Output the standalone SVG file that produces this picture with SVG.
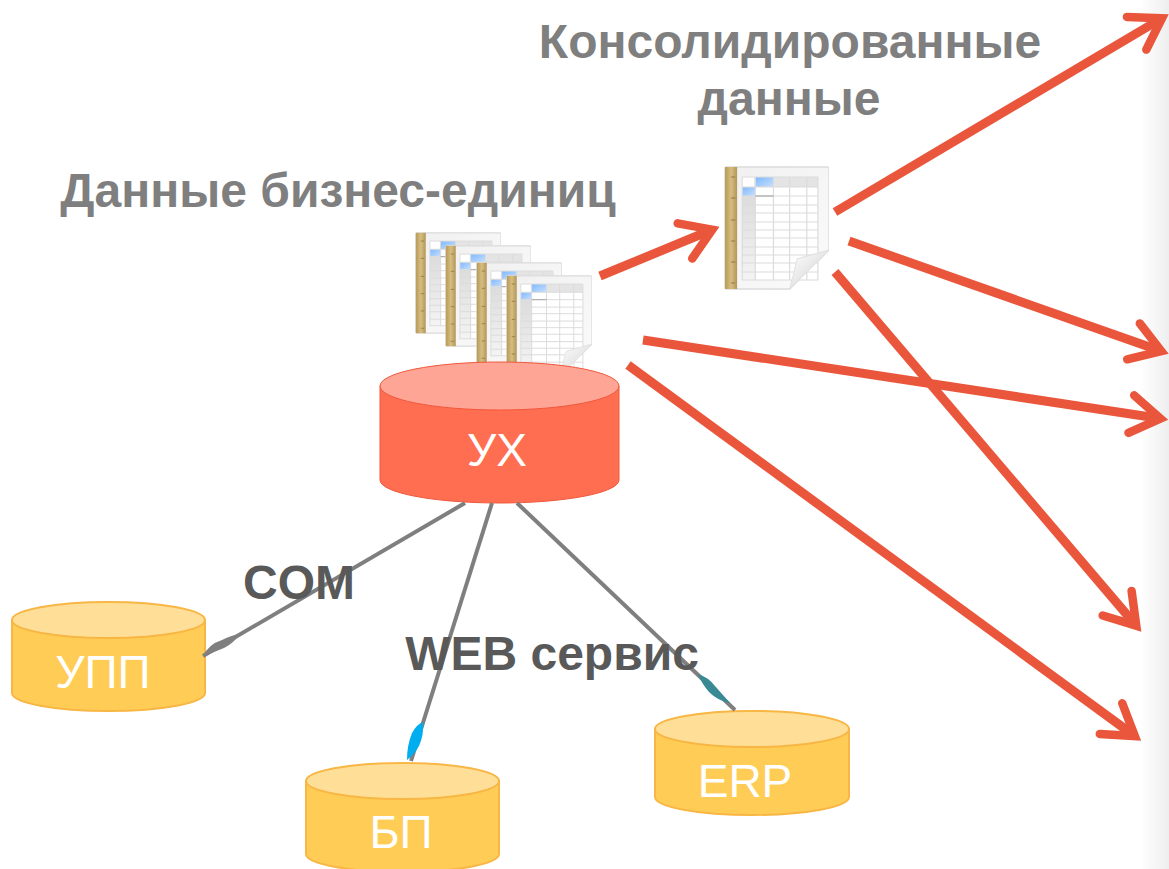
<svg xmlns="http://www.w3.org/2000/svg" xmlns:xlink="http://www.w3.org/1999/xlink" width="1169" height="869" viewBox="0 0 1169 869">
<style>
.h{font-family:"Liberation Sans",Arial,sans-serif;font-weight:700;font-size:48px;fill:#7f7f7f;text-anchor:middle}
.d{font-family:"Liberation Sans",Arial,sans-serif;font-weight:700;font-size:48px;fill:#595959;text-anchor:middle}
.w{font-family:"Liberation Sans",Arial,sans-serif;font-weight:400;font-size:46px;fill:#fff;text-anchor:middle}
.arrow{fill:none;stroke:#ea563c;stroke-width:9;marker-end:url(#head)}
.conn{fill:none;stroke:#7f7f7f;stroke-width:4}
.y .b{fill:#ffcd56;stroke:#f8b645;stroke-width:2}
.y .t{fill:#ffdf97;stroke:#f8b645;stroke-width:2}
.g{stroke:#dcdcdc;stroke-width:1.2;fill:none}
</style>
<defs>
<filter id="soft" x="-5%" y="-5%" width="110%" height="110%"><feGaussianBlur stdDeviation="0.5"/></filter>
<linearGradient id="edge" x1="0" x2="1" y1="0" y2="0"><stop offset="0" stop-color="#fff"/><stop offset="1" stop-color="#eeeeee"/></linearGradient>
<linearGradient id="rule" x1="0" x2="1" y1="0" y2="0"><stop offset="0" stop-color="#b89a58"/><stop offset=".5" stop-color="#d6bd80"/><stop offset="1" stop-color="#b3965a"/></linearGradient>
<linearGradient id="blue" x1="0" x2="1" y1="0" y2="1"><stop offset="0" stop-color="#7db8ff"/><stop offset="1" stop-color="#c8e0ff"/></linearGradient>
<linearGradient id="page" x1="0" x2="1" y1="0" y2="1"><stop offset="0" stop-color="#f0f0f0"/><stop offset="1" stop-color="#fbfbfb"/></linearGradient>
<linearGradient id="fold" x1="0" x2="1" y1="0" y2="1"><stop offset="0" stop-color="#fff"/><stop offset="1" stop-color="#cfcfcf"/></linearGradient>
<linearGradient id="col" x1="0" x2="0" y1="0" y2="1"><stop offset="0" stop-color="#dcdcdc"/><stop offset="1" stop-color="#f4f4f4"/></linearGradient>
<marker id="head" markerUnits="userSpaceOnUse" markerWidth="70" markerHeight="70" viewBox="-60 -35 70 70" refX="-12" refY="0" orient="auto" overflow="visible">
<path d="M-38,-19 L-8.500,0 L-38,19" fill="none" stroke="#ea563c" stroke-width="8.500" stroke-linecap="round" stroke-linejoin="miter" stroke-miterlimit="8"/>
</marker>
<symbol id="sheet" viewBox="0 0 104 124" preserveAspectRatio="none">
<g filter="url(#soft)">
<path d="M2,1H102Q104,1 104,3V84L65,123H3Q1,123 1,121V3Q1,1 2,1Z" fill="url(#page)" stroke="#dcdcdc" stroke-width="1.5"/>
<rect x="1" y="1" width="12" height="122" fill="url(#rule)"/>
<path stroke="#8f7840" stroke-width="1" d="M7,11H11M7,32H11M7,54H11M7,75H11M7,96H11M7,117H11"/>
<rect x="18" y="11" width="75" height="103" fill="#fff"/>
<rect x="30" y="11" width="63" height="10" fill="#e4e4e4"/>
<rect x="18" y="30" width="13" height="84" fill="url(#col)"/>
<rect x="31" y="11" width="18" height="10" fill="url(#blue)"/>
<rect x="18" y="21" width="13" height="9" fill="url(#blue)"/>
<path class="g" d="M18,11H93V114H18ZM18,21H93M18,30H93M18,39H93M18,47H93M18,56H93M18,64H93M18,72H93M18,81H93M18,89H93M18,97H93M18,106H93M31,11V114M49,11V114M65,11V114M82,11V114"/>
<path d="M31,30H49" stroke="#999" stroke-width="1"/>
<path d="M104,84L65,123L72,95Q72,92 75,92Z" fill="url(#fold)" stroke="#e0e0e0" stroke-width="1"/>
</g>
</symbol>
</defs>
<rect width="1169" height="869" fill="#fff"/>
<rect x="1140" y="0" width="29" height="869" fill="url(#edge)"/>
<g id="sheets-units">
<use xlink:href="#sheet" href="#sheet" x="415" y="232" width="86" height="102"/>
<use xlink:href="#sheet" href="#sheet" x="445" y="245" width="86" height="102"/>
<use xlink:href="#sheet" href="#sheet" x="476" y="262" width="86" height="102"/>
<use xlink:href="#sheet" href="#sheet" x="506" y="275" width="86" height="102"/>
</g>
<g id="sheet-consolidated"><use xlink:href="#sheet" href="#sheet" x="724" y="166" width="105" height="124"/></g>
<g id="ux">
<path d="M380,386V480A119.500,23 0 0 0 619,480V386Z" fill="#ff6e50" stroke="#f0583c" stroke-width="1"/>
<ellipse cx="499.500" cy="386" rx="119.500" ry="24" fill="#ffa595" stroke="#f0583c" stroke-width="1"/>
<text class="w" x="497" y="466">УХ</text>
</g>
<g id="upp" class="y">
<path class="b" d="M12,620V693A96.500,18 0 0 0 205,693V620Z"/>
<ellipse class="t" cx="108.500" cy="620" rx="96.500" ry="18"/>
<text class="w" x="103" y="688">УПП</text>
</g>
<g id="bp" class="y">
<path class="b" d="M306,781V854A96.500,18 0 0 0 499,854V781Z"/>
<ellipse class="t" cx="402.500" cy="781" rx="96.500" ry="18"/>
<text class="w" x="401" y="848">БП</text>
</g>
<g id="erp" class="y">
<path class="b" d="M655,729V797A97,18 0 0 0 849,797V729Z"/>
<ellipse class="t" cx="752" cy="729" rx="97" ry="18"/>
<text class="w" x="745" y="797">ERP</text>
</g>
<g id="connectors">
<path class="conn" d="M465,503L203,656"/>
<path class="conn" d="M492,503L411,761"/>
<path class="conn" d="M517,503L735,710"/>
<path d="M203,656Q209,644 222,640Q232,635 240,634Q234,643 224,648Q212,653 203,656Z" fill="#7f7f7f"/>
<path d="M407,760Q407,745 412,733Q417,724 423,722Q424,735 419,746Q414,755 407,760Z" fill="#00adef"/>
<path d="M698,674Q708,677 715,686Q722,694 730,703Q718,701 709,692Q702,684 698,674Z" fill="#3a8a96"/>
<path class="arrow" d="M600,276L709,231"/>
<path class="arrow" d="M835,212L1159,20"/>
<path class="arrow" d="M849,241L1158,350"/>
<path class="arrow" d="M643,340L1157,418"/>
<path class="arrow" d="M835,272L1134,623"/>
<path class="arrow" d="M628,365L1132,734"/>
</g>
<g id="labels">
<text class="h" x="790" y="58">Консолидированные</text>
<text class="h" x="789" y="115">данные</text>
<text class="h" x="338" y="207">Данные бизнес-единиц</text>
<text class="d" x="299" y="599">COM</text>
<text class="d" x="552" y="670">WEB сервис</text>
</g>
</svg>
